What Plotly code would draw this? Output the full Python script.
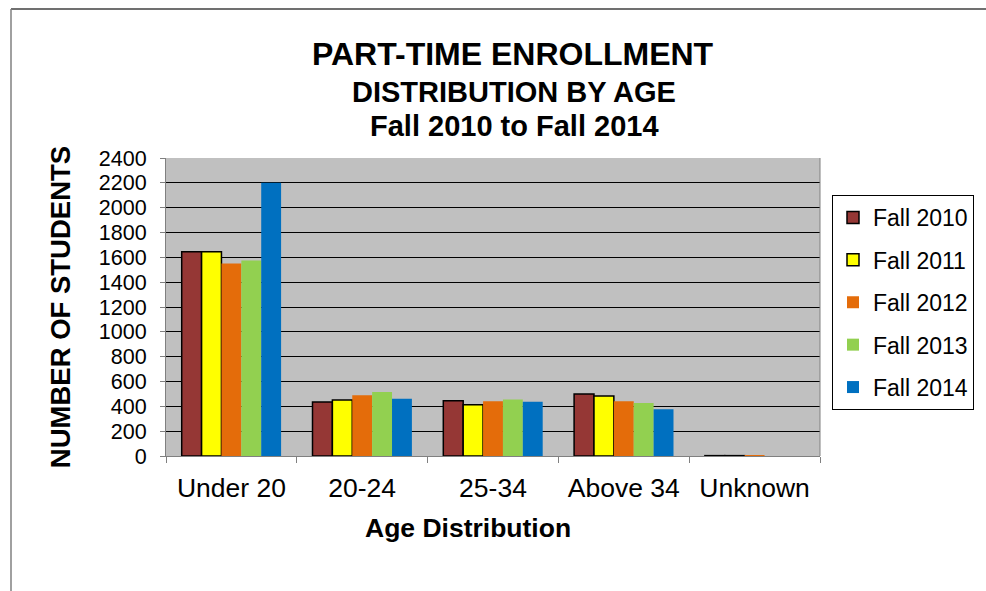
import plotly.graph_objects as go

categories = ["Under 20", "20-24", "25-34", "Above 34", "Unknown"]
series_names = ["Fall 2010", "Fall 2011", "Fall 2012", "Fall 2013", "Fall 2014"]
fall_2010 = [1645, 435, 445, 499, 3]
fall_2011 = [1645, 451, 413, 483, 3]
fall_2012 = [1550, 489, 440, 440, 1]
fall_2013 = [1575, 515, 456, 427, 0]
fall_2014 = [2200, 462, 437, 376, 0]
y_ticks = list(range(0, 2401, 200))

colors = ["#953735", "#FFFF00", "#E46C0A", "#92D050", "#0070C0"]
outlines = [True, True, False, False, False]
values = [fall_2010, fall_2011, fall_2012, fall_2013, fall_2014]

FONT = "Liberation Sans, Arial, sans-serif"
fig = go.Figure()
for name, vals, col, ol in zip(series_names, values, colors, outlines):
    fig.add_trace(go.Bar(
        x=categories, y=vals, name=name, legendgroup=name,
        marker=dict(color=col, line=dict(color="black" if ol else col, width=1.5 if ol else 0)),
    ))

W, H = 986, 591
L, R, T, B = 166, 820, 158, 456
def px(x):
    return (x - L) / (R - L)
def py(y):
    return (B - y) / (B - T)

fig.update_layout(
    width=W, height=H,
    margin=dict(l=L, r=W - R, t=T, b=H - B, autoexpand=False),
    paper_bgcolor="white", plot_bgcolor="#C0C0C0",
    barmode="group", bargap=0.24, bargroupgap=0,
    font=dict(family=FONT, color="black"),
    showlegend=True,
    legend=dict(
        x=px(832), y=py(195), xanchor="left", yanchor="top",
        bordercolor="black", borderwidth=1, bgcolor="white",
        font=dict(size=23, family=FONT), tracegroupgap=9.5,
        itemwidth=30,
    ),
    xaxis=dict(
        showgrid=False, showline=True, linecolor="#808080", linewidth=1,
        ticks="outside", ticklen=6, tickcolor="#808080", tickson="boundaries",
        tickfont=dict(size=26.5, family=FONT), ticklabelstandoff=8,
        mirror=False,
    ),
    yaxis=dict(
        range=[0, 2400], tickvals=y_ticks, showgrid=True, gridcolor="black", gridwidth=1,
        showline=True, linecolor="#808080", linewidth=1, ticks="outside", ticklen=5,
        tickcolor="#808080", tickfont=dict(size=21.5, family=FONT), zeroline=False,
        ticklabelstandoff=9,
        title=dict(text="<b>NUMBER OF STUDENTS</b>", font=dict(size=27.5, family=FONT), standoff=20),
    ),
    shapes=[
        dict(type="line", xref="paper", yref="paper", x0=px(820), x1=px(820), y0=0, y1=1,
             line=dict(color="#808080", width=1)),
        dict(type="line", xref="paper", yref="paper", x0=px(11), x1=px(986), y0=py(9), y1=py(9),
             line=dict(color="#404040", width=1.5)),
        dict(type="line", xref="paper", yref="paper", x0=px(11), x1=px(11), y0=py(9), y1=py(591),
             line=dict(color="#808080", width=1.5)),
    ],
    annotations=[
        dict(text="<b>PART-TIME ENROLLMENT</b>", xref="paper", yref="paper", x=px(513), y=py(54),
             showarrow=False, font=dict(size=32, family=FONT), xanchor="center", yanchor="middle"),
        dict(text="<b>DISTRIBUTION BY AGE</b>", xref="paper", yref="paper", x=px(514), y=py(92),
             showarrow=False, font=dict(size=29, family=FONT), xanchor="center", yanchor="middle"),
        dict(text="<b>Fall 2010 to Fall 2014</b>", xref="paper", yref="paper", x=px(514), y=py(126),
             showarrow=False, font=dict(size=29, family=FONT), xanchor="center", yanchor="middle"),
        dict(text="<b>Age Distribution</b>", xref="paper", yref="paper", x=px(468), y=py(528),
             showarrow=False, font=dict(size=26.5, family=FONT), xanchor="center", yanchor="middle"),
    ],
)

fig.write_html("out.html", config={"displayModeBar": False},
               post_script="document.body.style.margin='0';")
